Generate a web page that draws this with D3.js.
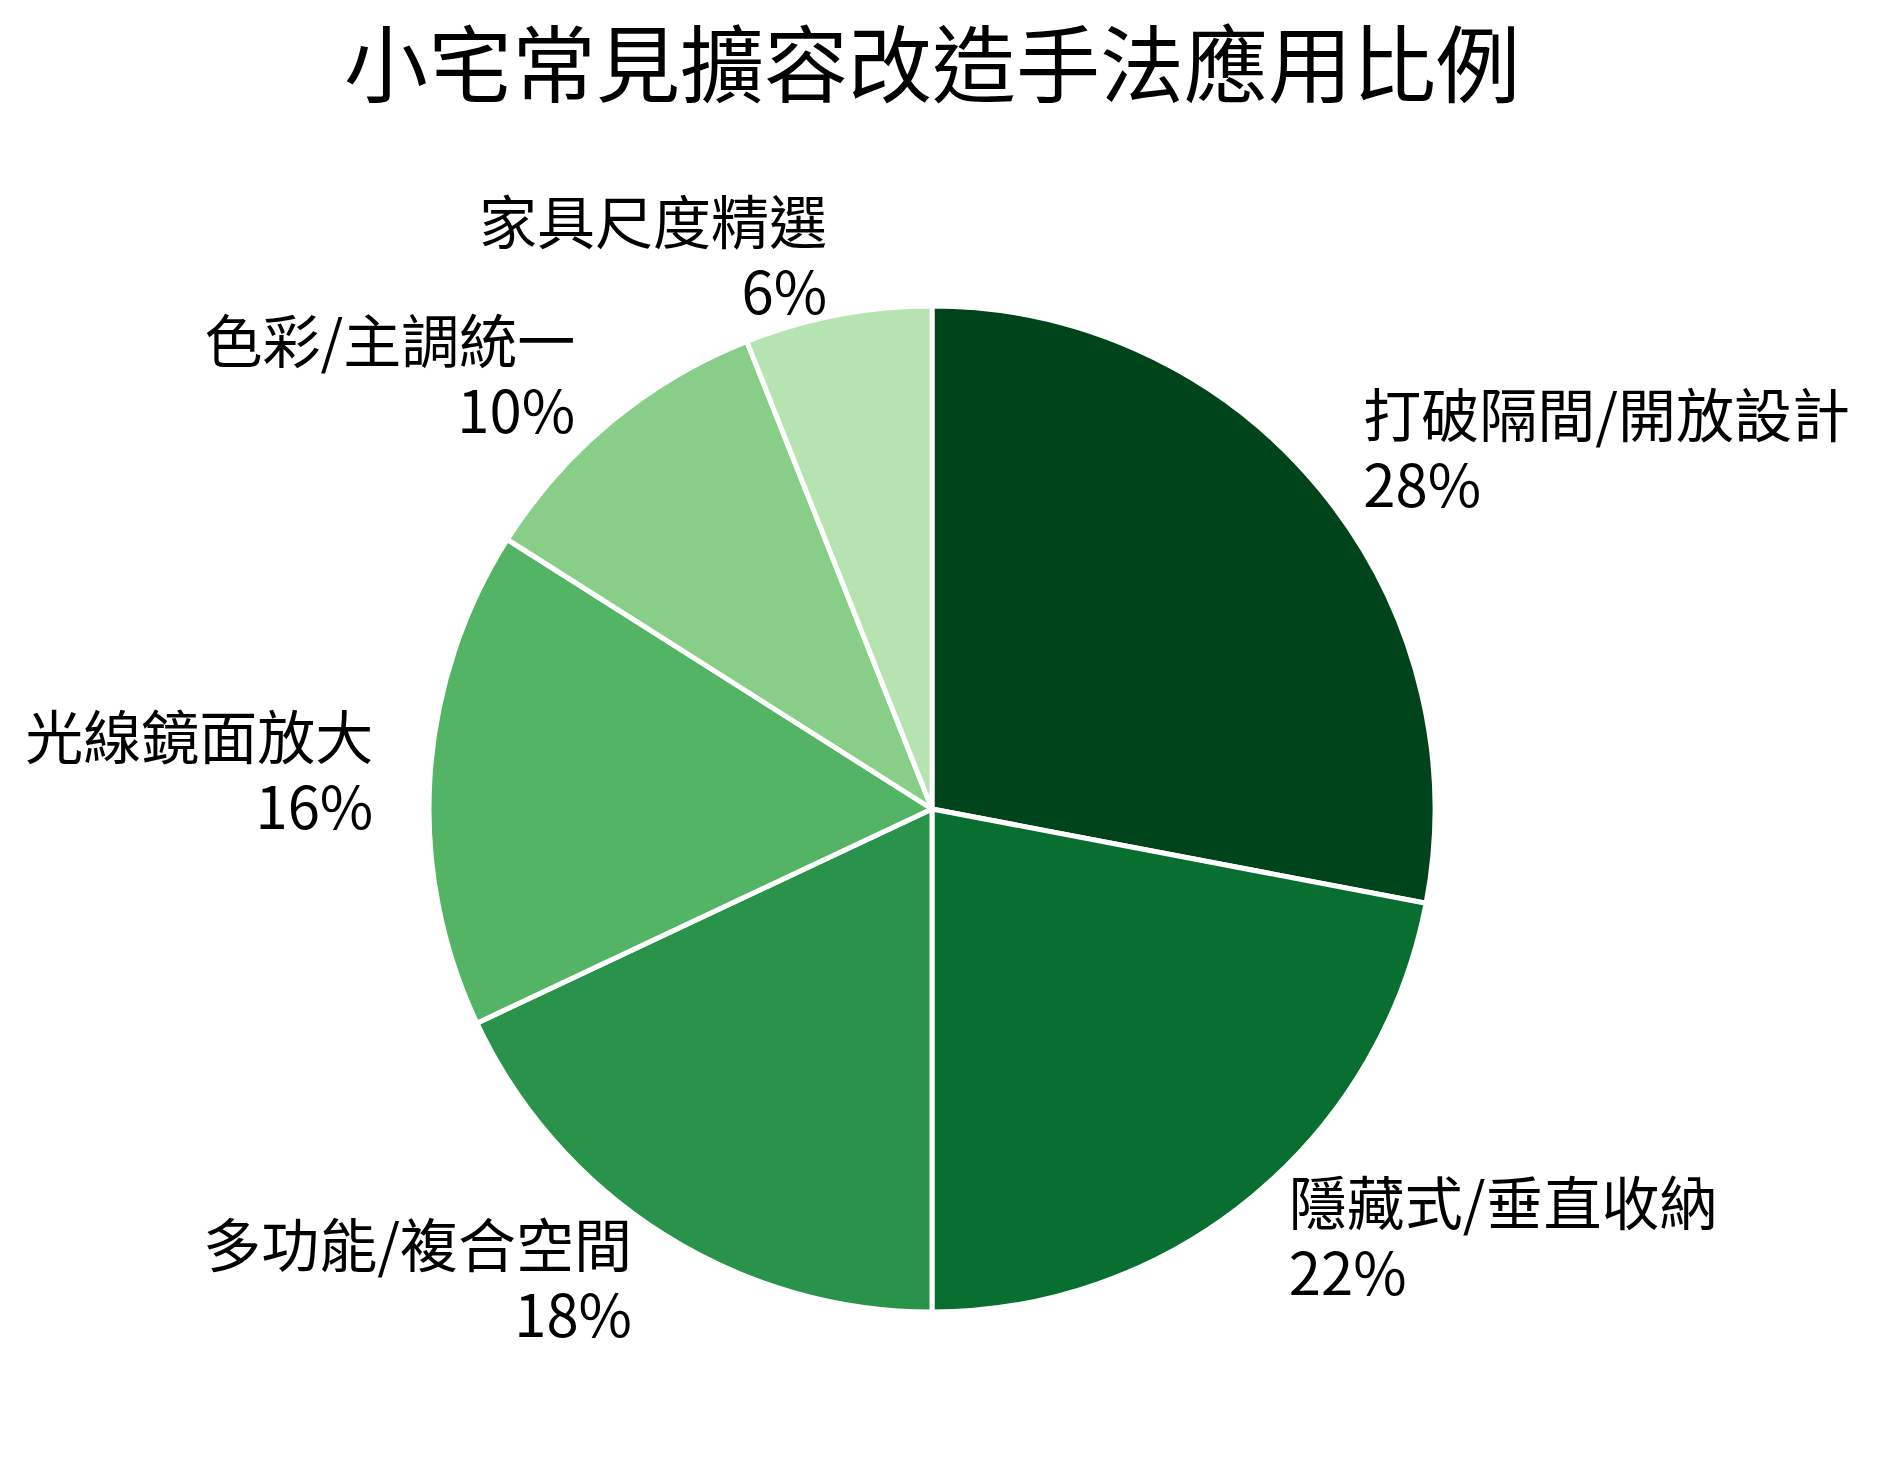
<!DOCTYPE html>
<html>
<head>
<meta charset="utf-8">
<script src="https://cdn.jsdelivr.net/npm/d3@7"></script>
<style>
  body { margin: 0; background: #fff; }
  text { font-family: "Noto Sans CJK TC", "Noto Sans", sans-serif; fill: #000; }
</style>
</head>
<body>
<svg id="pie-chart"></svg>
<script>
// chart data
const title = "小宅常見擴容改造手法應用比例";
const categories = ["打破隔間/開放設計", "隱藏式/垂直收納", "多功能/複合空間", "光線鏡面放大", "色彩/主調統一", "家具尺度精選"];
const shares = [28, 22, 18, 16, 10, 6];

const width = 1878, height = 1468;
const cx = 932, cy = 809, radius = 503;

const svg = d3.select("#pie-chart")
    .attr("width", width)
    .attr("height", height);

// dark to light greens, one per slice
const tScale = d3.scaleLinear().domain([0, categories.length - 1]).range([1, 0.3]);

const data = categories.map((c, i) => ({ name: c, value: shares[i], idx: i }));

const pie = d3.pie().sort(null).value(d => d.value);
const arc = d3.arc().innerRadius(0).outerRadius(radius);
const labelArc = d3.arc().innerRadius(radius * 1.113).outerRadius(radius * 1.113);

const g = svg.append("g").attr("transform", `translate(${cx},${cy})`);

g.selectAll("path")
    .data(pie(data))
    .enter()
    .append("path")
    .attr("d", arc)
    .attr("fill", d => d3.interpolateGreens(tScale(d.data.idx)))
    .attr("stroke", "#fff")
    .attr("stroke-width", 5)
    .attr("stroke-linejoin", "round");

// labels: name + percent, outside the slice
const labels = g.selectAll(".label")
    .data(pie(data))
    .enter()
    .append("text")
    .attr("class", "label")
    .attr("transform", d => `translate(${labelArc.centroid(d)})`)
    .attr("text-anchor", d => labelArc.centroid(d)[0] >= 0 ? "start" : "end")
    .attr("dominant-baseline", "central")
    .style("font-size", "58px");

labels.append("tspan")
    .attr("x", 0)
    .attr("y", -40)
    .text(d => d.data.name);

labels.append("tspan")
    .attr("x", 0)
    .attr("y", 30)
    .text(d => d.data.value + "%");

// title
svg.append("text")
    .attr("x", cx)
    .attr("y", 96)
    .attr("text-anchor", "middle")
    .style("font-size", "84px")
    .text(title);
</script>
</body>
</html>
